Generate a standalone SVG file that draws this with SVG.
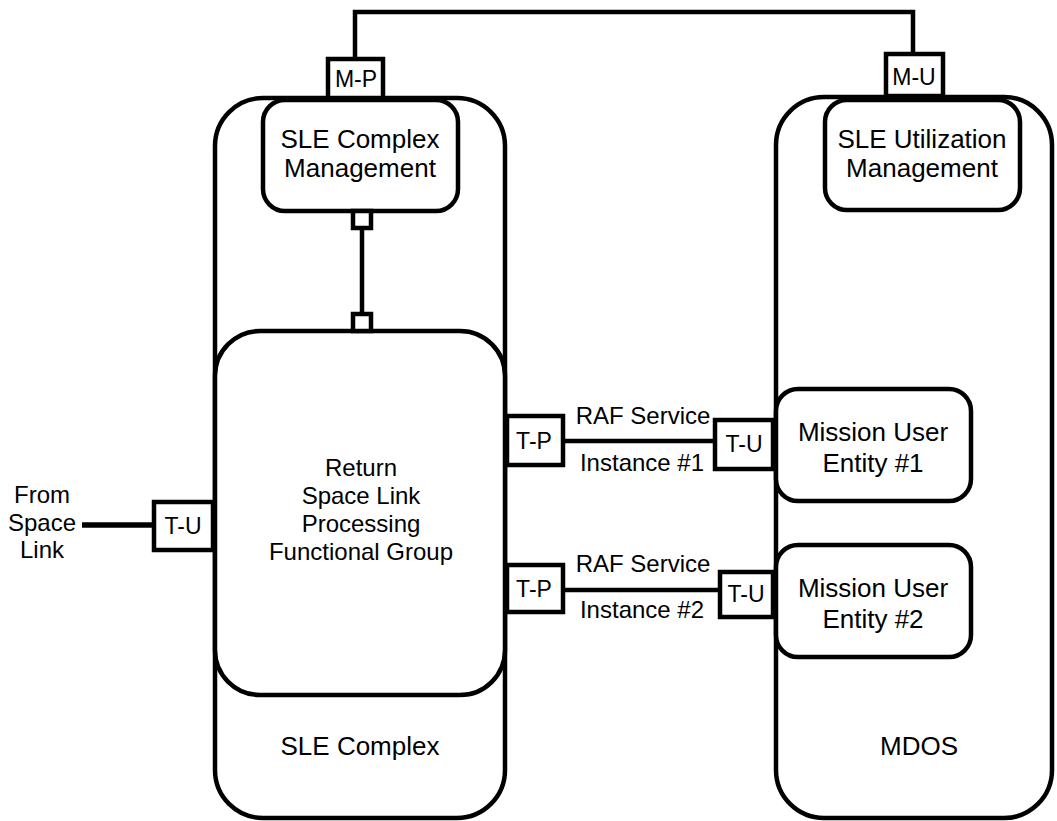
<svg xmlns="http://www.w3.org/2000/svg" width="1057" height="821" viewBox="0 0 1057 821">
<style>
.box{fill:#fff;stroke:#000;stroke-width:4.5}
.port{fill:#fff;stroke:#000;stroke-width:4.5}
.ln{fill:none;stroke:#000;stroke-width:4.5}
text{font-family:"Liberation Sans",Arial,sans-serif;fill:#000;text-anchor:middle}
.t26{font-size:26px}
.t24{font-size:24px}
.t23{font-size:23px}
</style>
<rect width="1057" height="821" fill="#fff"/>
<g id="sle-complex">
<rect class="box" x="215" y="98" width="290" height="720" rx="48" ry="48"/>
<text class="t26" x="360" y="755">SLE Complex</text>
</g>
<g id="mdos">
<rect class="box" x="776" y="97" width="276" height="721" rx="48" ry="48"/>
<text class="t26" x="919" y="755">MDOS</text>
</g>
<g id="sle-complex-mgmt">
<rect class="box" x="263" y="100" width="195" height="111" rx="22" ry="22"/>
<text class="t26" x="360" y="148">SLE Complex</text>
<text class="t26" x="360" y="177">Management</text>
</g>
<g id="sle-util-mgmt">
<rect class="box" x="825" y="100" width="195" height="110" rx="22" ry="22"/>
<text class="t26" x="922" y="148">SLE Utilization</text>
<text class="t26" x="922" y="177">Management</text>
</g>
<g id="return-slp">
<rect class="box" x="215" y="331" width="290" height="364" rx="45" ry="45"/>
<text class="t24" x="361" y="476">Return</text>
<text class="t24" x="361" y="504">Space Link</text>
<text class="t24" x="361" y="532">Processing</text>
<text class="t24" x="361" y="560">Functional Group</text>
</g>
<g id="mue1">
<rect class="box" x="776" y="389" width="195" height="112" rx="22" ry="22"/>
<text class="t26" x="873" y="441">Mission User</text>
<text class="t26" x="873" y="472">Entity #1</text>
</g>
<g id="mue2">
<rect class="box" x="776" y="545" width="195" height="112" rx="22" ry="22"/>
<text class="t26" x="873" y="597">Mission User</text>
<text class="t26" x="873" y="628">Entity #2</text>
</g>
<g id="connectors">
<polyline class="ln" points="355,59 355,12 913,12 913,54"/>
<line class="ln" x1="362" y1="228" x2="362" y2="314"/>
<rect class="port" x="353" y="211" width="18" height="17"/>
<rect class="port" x="353" y="314" width="18" height="17"/>
<line class="ln" x1="82" y1="525" x2="154" y2="525" style="stroke-width:5.5"/>
<line class="ln" x1="563" y1="441" x2="715" y2="441"/>
<line class="ln" x1="563" y1="590" x2="720" y2="590"/>
<text class="t24" x="643" y="424">RAF Service</text>
<text class="t24" x="642" y="471">Instance #1</text>
<text class="t24" x="643" y="572">RAF Service</text>
<text class="t24" x="642" y="618">Instance #2</text>
<text class="t24" x="42" y="503">From</text>
<text class="t24" x="42" y="531">Space</text>
<text class="t24" x="42" y="558">Link</text>
</g>
<g id="port-mp">
<rect class="port" x="328" y="59" width="55" height="39"/>
<text class="t23" x="356" y="87">M-P</text>
</g>
<g id="port-mu">
<rect class="port" x="886" y="54" width="57" height="42"/>
<text class="t23" x="914" y="85">M-U</text>
</g>
<g id="port-tu-left">
<rect class="port" x="154" y="502" width="59" height="48"/>
<text class="t23" x="183" y="534">T-U</text>
</g>
<g id="port-tp1">
<rect class="port" x="507" y="416" width="56" height="49"/>
<text class="t23" x="534" y="449">T-P</text>
</g>
<g id="port-tu1">
<rect class="port" x="715" y="420" width="58" height="49"/>
<text class="t23" x="744" y="452">T-U</text>
</g>
<g id="port-tp2">
<rect class="port" x="507" y="565" width="56" height="47"/>
<text class="t23" x="534" y="597">T-P</text>
</g>
<g id="port-tu2">
<rect class="port" x="720" y="572" width="53" height="45"/>
<text class="t23" x="746" y="602">T-U</text>
</g>
</svg>
